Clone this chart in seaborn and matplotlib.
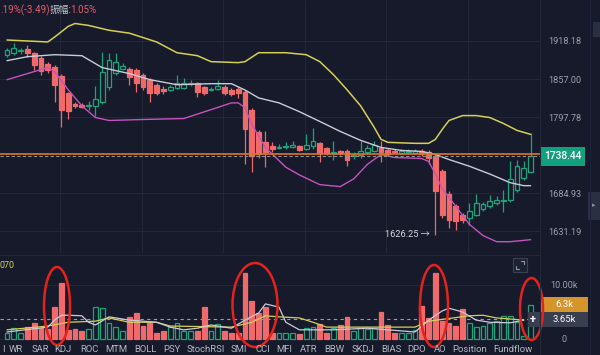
import matplotlib
matplotlib.use('Agg')
import matplotlib.pyplot as plt
from matplotlib.patches import Ellipse, Rectangle
from matplotlib.ticker import NullLocator, NullFormatter
from matplotlib.transforms import blended_transform_factory
import seaborn as sns

# ---------------- data ----------------
opens = [1895.9, 1899.1, 1901.5, 1905.4, 1899.1, 1891.1, 1881.5, 1876.7, 1862.4, 1835.3,
         1818.1, 1816.6, 1815.1, 1815.1, 1821.1, 1844.8, 1867.2, 1873.5, 1873.5, 1872.0,
         1864.0, 1856.0, 1848.0, 1841.6, 1840.1, 1843.2, 1843.2, 1849.6, 1851.2, 1844.8,
         1840.1, 1841.6, 1844.8, 1840.1, 1841.6, 1836.9, 1809.1, 1774.4, 1759.4, 1753.3,
         1751.1, 1751.8, 1751.8, 1753.3, 1748.8, 1753.3, 1757.9, 1750.3, 1743.6, 1745.8,
         1745.8, 1738.3, 1739.8, 1744.3, 1745.8, 1750.3, 1747.3, 1745.8, 1742.8, 1745.1,
         1742.8, 1745.8, 1744.3, 1738.3, 1716.8, 1684.3, 1665.9, 1653.3, 1649.0, 1653.3,
         1661.7, 1665.9, 1670.2, 1673.0, 1674.4, 1688.7, 1707.0, 1715.4]
closes = [1903.9, 1907.0, 1903.1, 1899.1, 1879.9, 1870.4, 1872.0, 1848.0, 1809.1, 1807.5,
          1815.1, 1813.6, 1816.6, 1825.7, 1868.8, 1887.9, 1884.7, 1878.3, 1860.8, 1851.2,
          1844.8, 1835.3, 1835.3, 1838.5, 1844.8, 1851.2, 1851.2, 1851.2, 1836.9, 1835.3,
          1841.6, 1846.4, 1835.3, 1833.7, 1835.3, 1778.9, 1738.3, 1741.3, 1744.3, 1748.8,
          1752.6, 1753.3, 1754.9, 1747.3, 1754.9, 1760.9, 1742.8, 1742.8, 1745.1, 1742.8,
          1733.8, 1739.8, 1745.8, 1750.3, 1754.9, 1744.3, 1741.3, 1744.3, 1745.8, 1745.8,
          1745.8, 1741.3, 1736.8, 1687.2, 1653.3, 1646.2, 1644.8, 1646.2, 1658.9, 1670.2,
          1668.8, 1673.0, 1674.4, 1674.4, 1705.5, 1723.9, 1721.1, 1738.44]
highs = [1907.0, 1915.0, 1907.0, 1911.8, 1900.7, 1894.3, 1884.7, 1879.9, 1865.6, 1836.9,
         1821.1, 1819.6, 1822.6, 1846.4, 1900.7, 1899.1, 1899.1, 1883.1, 1876.7, 1875.1,
         1867.2, 1859.2, 1851.2, 1846.4, 1848.0, 1864.0, 1859.2, 1856.0, 1852.8, 1846.4,
         1844.8, 1856.0, 1848.0, 1843.2, 1844.8, 1840.1, 1812.1, 1777.4, 1775.9, 1759.4,
         1756.4, 1759.4, 1760.9, 1754.9, 1771.4, 1780.5, 1759.4, 1751.8, 1760.9, 1747.3,
         1748.8, 1744.3, 1760.9, 1754.9, 1760.9, 1760.9, 1750.3, 1748.8, 1748.8, 1748.8,
         1748.8, 1748.8, 1747.3, 1741.3, 1719.7, 1687.2, 1668.8, 1656.1, 1670.2, 1682.9,
         1671.6, 1681.5, 1680.1, 1688.7, 1731.0, 1733.8, 1731.0, 1773.8]
lows = [1892.7, 1895.9, 1897.5, 1892.7, 1872.0, 1864.0, 1867.2, 1821.1, 1782.0, 1794.0,
        1812.1, 1812.1, 1809.1, 1800.0, 1818.1, 1840.1, 1864.0, 1872.0, 1848.0, 1836.9,
        1840.1, 1821.1, 1832.1, 1833.7, 1838.5, 1841.6, 1841.6, 1846.4, 1828.9, 1832.1,
        1838.5, 1840.1, 1832.1, 1830.5, 1827.3, 1726.7, 1715.4, 1736.8, 1722.5, 1744.3,
        1748.8, 1748.8, 1750.3, 1745.8, 1747.3, 1748.8, 1729.6, 1739.8, 1733.8, 1739.8,
        1723.9, 1735.3, 1736.8, 1741.3, 1744.3, 1729.6, 1738.3, 1742.8, 1741.3, 1742.8,
        1741.3, 1738.3, 1726.7, 1626.25, 1649.0, 1634.9, 1632.1, 1641.8, 1639.1, 1651.9,
        1658.9, 1663.1, 1667.4, 1657.5, 1671.6, 1685.8, 1704.1, 1714.0]
volume_k = [1.2, 2.0, 1.1, 2.2, 2.9, 2.0, 1.9, 5.9, 10.4, 1.7,
            1.8, 1.5, 1.9, 6.0, 5.7, 3.0, 2.2, 1.4, 4.1, 4.8,
            2.4, 3.0, 1.1, 1.4, 2.2, 3.0, 1.5, 1.5, 1.5, 5.9,
            1.4, 2.8, 1.5, 1.1, 1.2, 12.2, 7.0, 4.8, 5.9, 1.2,
            1.2, 1.2, 1.1, 1.0, 2.0, 2.2, 2.8, 1.2, 2.0, 2.6,
            4.1, 1.5, 2.1, 1.9, 2.0, 5.0, 2.6, 1.1, 1.1, 1.1,
            1.7, 6.1, 3.9, 12.2, 3.4, 3.0, 2.4, 5.6, 2.9, 2.2,
            2.4, 3.0, 3.4, 4.2, 4.2, 3.2, 0.6, 6.3]

# bollinger bands, sampled at candle indices
boll_up_idx = [0, 3, 6, 7, 9, 10, 12, 15, 18, 22, 25, 28, 30, 34, 35, 37, 41, 44, 46, 48,
               50, 52, 54, 55, 56, 60, 62, 63, 64, 65, 67, 69, 71, 73, 75, 77]
boll_up = [1919.8, 1918.2, 1916.6, 1924.6, 1942.2, 1947.0, 1943.8, 1935.8, 1931.0, 1916.6,
           1899.1, 1894.3, 1884.7, 1883.1, 1884.7, 1899.1, 1899.1, 1895.9, 1884.7, 1864.0,
           1840.1, 1815.1, 1782.0, 1763.9, 1759.4, 1757.9, 1757.9, 1763.9, 1778.9, 1792.5,
           1800.0, 1800.0, 1797.0, 1788.0, 1777.4, 1771.4]
boll_mid_idx = [0, 3, 7, 11, 14, 18, 21, 25, 30, 33, 35, 37, 40, 43, 46, 49, 52, 55, 58, 61,
                63, 65, 68, 71, 74, 76, 77]
boll_mid = [1886.3, 1892.7, 1895.9, 1894.3, 1875.1, 1865.6, 1856.0, 1848.0, 1849.6, 1849.6,
            1839.7, 1827.3, 1819.6, 1806.0, 1791.0, 1775.9, 1762.4, 1751.8, 1747.3, 1745.8,
            1741.3, 1733.8, 1723.9, 1712.5, 1699.9, 1695.6, 1695.6]
boll_low_idx = [0, 3, 5, 6, 7, 9, 11, 13, 15, 20, 26, 30, 33, 34, 35, 36, 38, 41, 43, 46,
                49, 51, 53, 55, 57, 61, 62, 63, 64, 66, 68, 70, 72, 74, 77]
boll_low = [1855.9, 1865.6, 1872.0, 1875.1, 1868.8, 1840.1, 1815.1, 1797.0, 1792.5, 1794.0,
            1795.5, 1809.1, 1819.6, 1819.6, 1812.1, 1786.5, 1751.8, 1722.5, 1711.2, 1697.1,
            1694.2, 1705.5, 1726.7, 1741.3, 1736.8, 1735.3, 1731.0, 1712.6, 1691.4, 1666.0,
            1640.5, 1625.0, 1616.5, 1616.5, 1619.3]

# volume moving averages (k), sampled at candle indices
vol_ma5_idx = [0, 4, 6, 7, 8, 9, 11, 12, 13, 15, 16, 18, 20, 22, 24, 26, 28, 30, 33, 35,
               37, 38, 40, 41, 43, 48, 53, 60, 62, 64, 65, 67, 69, 71, 74, 76]
vol_ma5 = [1.3, 1.9, 2.2, 3.5, 4.4, 4.4, 4.3, 3.1, 2.6, 4.1, 3.9, 3.5, 3.3, 3.1, 2.2, 1.7,
           2.0, 2.6, 2.0, 3.5, 4.8, 6.5, 5.9, 3.1, 1.7, 1.7, 2.0, 1.3, 3.5, 5.2, 5.7, 5.0,
           3.5, 3.1, 3.0, 3.5]
vol_ma10_idx = [0, 6, 9, 13, 15, 18, 22, 24, 33, 36, 38, 40, 43, 45, 47, 53, 60, 62, 68, 70,
                72, 76]
vol_ma10 = [1.7, 2.4, 3.1, 3.3, 3.9, 3.1, 3.1, 2.4, 2.2, 3.1, 4.3, 4.1, 3.9, 3.1, 2.2, 2.2,
            2.2, 3.3, 4.3, 4.4, 3.9, 3.5]

price_ticks = [1631.19, 1684.93, 1797.78, 1857.00, 1918.18]
last_price = 1738.44
avg_vol_k = 3.65
low_mark = 1626.25
tabs = ['I', 'WR', 'SAR', 'KDJ', 'ROC', 'MTM', 'BOLL', 'PSY', 'StochRSI', 'SMI', 'CCI', 'MFI',
        'ATR', 'BBW', 'SKDJ', 'BIAS', 'DPO', 'AO', 'Position', 'Fundflow']
tab_x = [2, 16, 40, 63, 89, 116, 145, 172, 206, 239, 263, 284,
         309, 334, 363, 391, 417, 440, 470, 513]

# ---------------- style ----------------
bg = '#161a2a'
grid = '#232839'
up_c = '#1fa37b'
down_c = '#f06a6c'
txt = '#9aa0ad'

sns.set_theme(style='dark', rc={'axes.facecolor': bg, 'figure.facecolor': bg})
plt.rcParams['font.family'] = ['Roboto', 'Noto Sans CJK SC', 'DejaVu Sans']

W, H = 600, 355
fig = plt.figure(figsize=(6, 3.55), dpi=100)
ax = fig.add_axes([0, 1 - 253 / H, 540 / W, 253 / H])
ax2 = fig.add_axes([0, 0, 540 / W, (H - 258) / H], sharex=ax)

n = len(opens)
xs = list(range(n))
is_up = [c >= o for o, c in zip(opens, closes)]
cols = [up_c if u else down_c for u in is_up]

# ---------------- price panel ----------------
ax.set_yscale('log')
ax.set_ylim(1601.0, 1986.4)
ax.set_xlim(-7 / 6.8, 533 / 6.8)
for v in price_ticks:
    ax.axhline(v, color=grid, lw=0.7, zorder=0)
for gx in [7.8, 19.8, 31.8, 43.8, 55.8, 67.8]:
    ax.axvline(gx, color=grid, lw=0.7, zorder=0)

ax.vlines(xs, lows, highs, colors=cols, lw=0.9, zorder=3)
bodies = [max(abs(c - o), 0.9) for o, c in zip(opens, closes)]
bottoms = [min(o, c) for o, c in zip(opens, closes)]
ax.bar(xs, bodies, bottom=bottoms, width=0.72,
       color=[bg if u else down_c for u in is_up], edgecolor=cols, lw=0.9, zorder=4)

sns.lineplot(x=boll_up_idx, y=boll_up, ax=ax, color='#d6cf55', lw=1.1, zorder=5)
sns.lineplot(x=boll_mid_idx, y=boll_mid, ax=ax, color='#c9ccd8', lw=1.0, zorder=5)
sns.lineplot(x=boll_low_idx, y=boll_low, ax=ax, color='#c653bd', lw=1.0, zorder=5)

ax.axhline(1741.3, color='#d97a1c', lw=1.2, zorder=6)
ax.axhline(last_price, color='#8c8f96', lw=0.8, ls=(0, (3, 2)), zorder=6)

ax.set_yticks(price_ticks)
ax.set_yticklabels([f'{v:.2f}' for v in price_ticks])
ax.yaxis.set_minor_locator(NullLocator())
ax.yaxis.set_minor_formatter(NullFormatter())
ax.yaxis.tick_right()
ax.tick_params(axis='y', length=0, pad=6, labelsize=6.6, labelcolor=txt)
ax.tick_params(axis='x', length=0, labelbottom=False)
ax.set_xlabel('')
ax.set_ylabel('')
for s in ax.spines.values():
    s.set_visible(False)

btr = blended_transform_factory(ax.transAxes, ax.transData)
ax.text(1 + 4 / 540, last_price, f'{last_price:.2f}', transform=btr, ha='left', va='center',
        color='white', fontsize=7.4, fontweight='medium',
        bbox=dict(boxstyle='square,pad=0.4', fc='#13a07c', ec='none'), clip_on=False)
ax.text(63 - 0.9, low_mark, f'{low_mark:.2f} →', ha='right', va='center',
        color='#d5d8e0', fontsize=6.6)

# ---------------- volume panel ----------------
ax2.set_ylim(-(H - 339) / 5.4, (339 - 258) / 5.4)
ax2.axhline(0, color=grid, lw=0.7, zorder=0)
ax2.axhline(10, color=grid, lw=0.7, zorder=0)
ax2.bar(xs, volume_k, width=0.72, color=[bg if u else down_c for u in is_up],
        edgecolor=cols, lw=0.9, zorder=3)
sns.lineplot(x=vol_ma10_idx, y=vol_ma10, ax=ax2, color='#d6cf55', lw=0.9, zorder=4)
sns.lineplot(x=vol_ma5_idx, y=vol_ma5, ax=ax2, color='#c9ccd8', lw=0.9, zorder=4)
ax2.axhline(avg_vol_k, color='#9a9ea8', lw=0.8, ls=(0, (3, 3)), zorder=2)
ax2.set_yticks([])
ax2.tick_params(axis='x', length=0, labelbottom=False)
ax2.set_xlabel('')
ax2.set_ylabel('')
for s in ax2.spines.values():
    s.set_visible(False)

btr2 = blended_transform_factory(ax2.transAxes, ax2.transData)
for v, lab in [(10, '10.00k'), (5, '5.00k'), (0, '0')]:
    ax2.text(564 / 540, v, lab, transform=btr2, ha='center', va='center', color=txt,
             fontsize=6.6, clip_on=False)

# ---------------- figure overlays ----------------
def px_rect(x, y, w, h, **kw):
    fig.add_artist(Rectangle((x / W, 1 - (y + h) / H), w / W, h / H,
                             transform=fig.transFigure, **kw))

def px_text(x, y, s, **kw):
    fig.text(x / W, 1 - y / H, s, **kw)

def px_line(xa, ya, xb, yb, **kw):
    fig.add_artist(plt.Line2D([xa / W, xb / W], [1 - ya / H, 1 - yb / H], **kw))

px_line(540, 0, 540, H, color=grid, lw=0.8)
px_line(590, 0, 590, H, color='#20243a', lw=0.8)
px_line(0, 255, 540, 255, color=grid, lw=0.7)
px_rect(593, 22, 7, 15, fc='#2a2f42', ec='none')
px_rect(588, 192, 12, 28, fc='#2a2f42', ec='none')
px_text(594, 206, '▸', color='#8c92a0', fontsize=5, ha='center', va='center')

px_rect(541, 297, 47, 15, fc='#d5952a', ec='none')
px_text(564, 304.5, '6.3k', color='white', fontsize=6.8, ha='center', va='center')
px_rect(528, 312, 60, 15, fc='#3a3f4f', ec='none')
px_text(564, 319.5, '3.65k', color='white', fontsize=6.8, ha='center', va='center')
px_text(533, 319.5, '+', color='white', fontsize=8, fontweight='bold', ha='center', va='center')

# fullscreen button (corner brackets)
px_rect(513, 258, 14, 14, fc='#1d2233', ec='#3b4152', lw=0.8)
ic = '#9096a4'
px_line(521, 261, 524, 261, color=ic, lw=0.8)
px_line(524, 261, 524, 264, color=ic, lw=0.8)
px_line(516, 266, 516, 269, color=ic, lw=0.8)
px_line(516, 269, 519, 269, color=ic, lw=0.8)

px_text(0, 10, '.19%(-3.49)', color='#e5606a', fontsize=7, ha='left', va='center')
px_text(50, 10, '振幅:', color='#c0c4cc', fontsize=7, ha='left', va='center')
px_text(70, 10, '1.05%', color='#e5606a', fontsize=7, ha='left', va='center')
px_text(0, 265, '070', color='#d6cf55', fontsize=6.4, ha='left', va='center')

for lab, tx in zip(tabs, tab_x):
    px_text(max(tx, 3), 350, lab, color='#b5b9c5', fontsize=6.8, ha='center', va='center')

for cx, cy, ew, eh in [(57, 306, 26, 78), (255, 305, 45, 84), (434, 306, 28, 82), (531.5, 309, 23, 62)]:
    fig.add_artist(Ellipse((cx / W, 1 - cy / H), ew / W, eh / H, transform=fig.transFigure,
                           fill=False, ec='#e3231c', lw=1.8))

fig.savefig('out.png', dpi=100, facecolor=bg)
